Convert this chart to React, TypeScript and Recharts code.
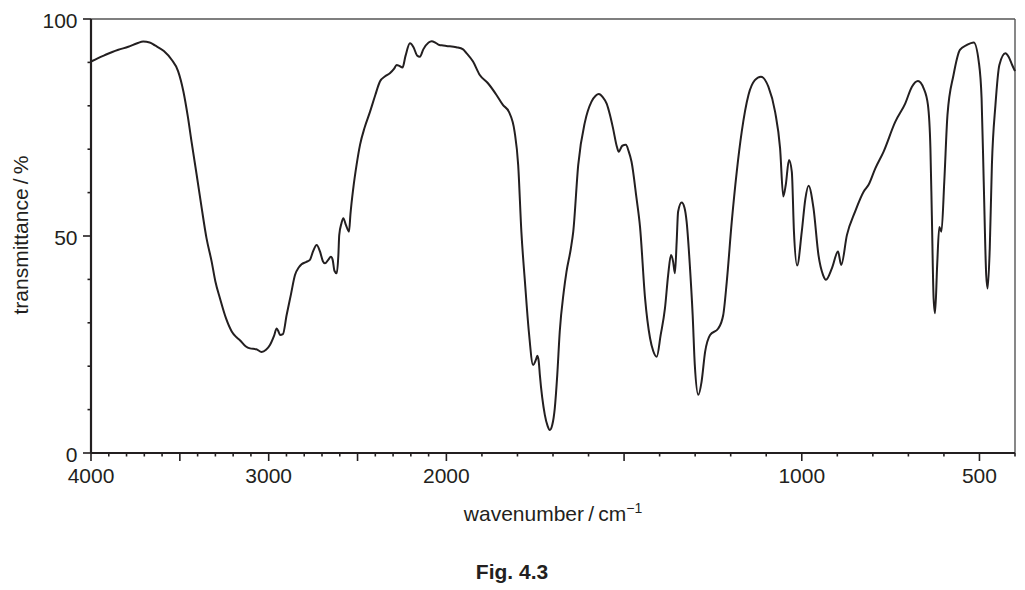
import React from 'react';
import { LineChart, Line, XAxis, YAxis, ReferenceLine } from 'recharts';

// IR spectrum: wavenumber (cm^-1) and transmittance (%)
const wavenumbers = [
  4000, 3960, 3921, 3880, 3846, 3790, 3740, 3706, 3670, 3640, 3590, 3546, 3510, 3480, 3455, 3434,
  3405, 3377, 3350, 3321, 3300, 3274, 3240, 3208, 3185, 3162, 3130, 3105, 3070, 3040, 3015, 2993,
  2970, 2955, 2945, 2936, 2920, 2899, 2875, 2852, 2830, 2815, 2790, 2768, 2750, 2730, 2712, 2695,
  2683, 2665, 2650, 2640, 2630, 2617, 2608, 2603, 2590, 2580, 2565, 2548, 2540, 2524, 2505, 2486,
  2460, 2430, 2400, 2374, 2345, 2318, 2295, 2280, 2265, 2247, 2230, 2205, 2185, 2165, 2149, 2130,
  2100, 2083, 2060, 2040, 2018, 2000, 1972, 1953, 1944, 1925, 1906, 1883, 1859, 1841, 1824, 1808,
  1798, 1789, 1779, 1768, 1756, 1748, 1744, 1740, 1737, 1723, 1715, 1709, 1702, 1695, 1688, 1681,
  1670, 1662, 1650, 1643, 1629, 1610, 1592, 1580, 1571, 1560, 1549, 1540, 1531, 1520, 1515, 1505,
  1495, 1487, 1479, 1465, 1455, 1441, 1427, 1418, 1408, 1397, 1385, 1376, 1368, 1362, 1357, 1352,
  1348, 1338, 1330, 1324, 1315, 1307, 1301, 1291, 1282, 1272, 1258, 1235, 1221, 1211, 1197, 1183,
  1169, 1150, 1132, 1115, 1094, 1075, 1061, 1052, 1045, 1036, 1028, 1022, 1013, 1000, 990, 981,
  967, 953, 940, 932, 915, 898, 889, 873, 850, 826, 812, 793, 770, 737, 709, 690,
  673, 657, 645, 638, 634, 629, 625, 619, 613, 607, 599, 590, 573, 555, 536, 516,
  502, 494, 488, 481, 477, 471, 465, 455, 444, 427, 418, 408, 400,
];

const transmittance = [
  90.2, 91.0, 91.7, 92.4, 92.9, 93.6, 94.4, 94.8, 94.6, 93.9, 92.6, 90.6, 88.0, 83.3, 77.5, 71.7,
  64.0, 56.4, 49.5, 44.1, 39.5, 35.6, 31.0, 28.0, 26.8, 26.0, 24.6, 24.1, 23.9, 23.3, 23.8, 24.9,
  27.0, 28.7, 28.0, 27.2, 27.4, 31.8, 36.5, 41.0, 42.8, 43.5, 44.0, 44.5, 46.5, 47.9, 46.5, 44.2,
  43.7, 44.5, 45.2, 44.5, 42.0, 41.4, 45.5, 50.2, 53.0, 54.1, 52.5, 51.0, 55.0, 61.0, 66.5, 71.0,
  75.0, 78.6, 82.5, 85.6, 86.8, 87.5, 88.5, 89.4, 89.2, 88.8, 91.5, 94.4, 93.5, 91.6, 91.3, 93.0,
  94.6, 94.9, 94.5, 94.0, 93.9, 93.8, 93.5, 93.0, 92.2, 90.2, 87.1, 85.2, 82.5, 80.2, 78.6, 74.0,
  66.4, 51.0, 39.5, 28.0, 20.3, 21.5, 22.4, 21.0, 18.0, 8.8, 6.2, 5.3, 6.5, 10.3, 18.0, 28.0,
  37.0, 41.8, 47.0, 51.0, 66.4, 76.3, 80.9, 82.3, 82.7, 82.0, 80.5, 78.0, 74.8, 70.5, 69.4, 70.8,
  71.0, 69.5, 67.1, 58.7, 52.0, 35.7, 26.5, 23.5, 22.2, 27.2, 33.3, 41.0, 45.6, 44.1, 41.4, 48.7,
  55.6, 57.7, 56.5, 53.3, 43.3, 31.8, 20.3, 13.4, 16.4, 23.3, 27.2, 28.7, 31.8, 39.5, 53.3, 64.8,
  74.0, 82.5, 85.9, 86.7, 84.4, 78.6, 70.2, 59.1, 61.8, 67.5, 64.8, 51.0, 43.2, 51.0, 58.5, 61.6,
  56.4, 45.6, 41.0, 39.9, 42.6, 46.4, 43.3, 50.2, 55.6, 60.2, 61.8, 65.6, 69.4, 76.3, 80.5, 84.4,
  85.7, 84.0, 80.2, 70.2, 54.8, 35.6, 32.2, 43.3, 52.1, 51.0, 62.5, 77.9, 87.1, 92.9, 94.0, 94.6,
  90.2, 81.7, 62.5, 41.0, 37.9, 47.2, 66.4, 80.2, 89.4, 92.1, 91.3, 89.4, 88.0,
];

const xTickWavenumbers = [
  4000, 3900, 3800, 3700, 3600, 3500, 3400, 3300, 3200, 3100, 3000, 2900, 2800, 2700, 2600, 2500,
  2400, 2300, 2200, 2100, 2000, 1900, 1800, 1700, 1600, 1500, 1400, 1300, 1200, 1100, 1000, 900,
  800, 700, 600, 500, 400,
];
const xLabelWavenumbers = [4000, 3000, 2000, 1000, 500];
const xLongTickWavenumbers = [4000, 3500, 3000, 2500, 2000, 1500, 1000, 500];
const yTickValues = [0, 10, 20, 30, 40, 50, 60, 70, 80, 90, 100];
const yLabelValues = [0, 50, 100];

// The wavenumber axis is drawn with a scale change at 2000 cm^-1 (double scale below it)
const SPLIT = 2000;
const toPos = (wn: number) => (wn >= SPLIT ? 4000 - wn : 2000 + 2 * (SPLIT - wn));
const fromPos = (p: number) => (p <= 2000 ? 4000 - p : SPLIT - (p - 2000) / 2);

const data = wavenumbers.map((wn, i) => ({ pos: toPos(wn), t: transmittance[i] }));

const INK = '#231f20';
const FONT = '"Liberation Sans", Arial, Helvetica, sans-serif';

const XTick = (props: any) => {
  const { x, y, payload } = props;
  const wn = Math.round(fromPos(payload.value));
  const axisY = y - 8;
  const long = xLongTickWavenumbers.includes(wn);
  return (
    <g>
      <line x1={x} x2={x} y1={axisY} y2={axisY + (long ? 8 : 3.5)} stroke={INK} strokeWidth={1.6} />
      {xLabelWavenumbers.includes(wn) && (
        <text x={x} y={axisY + 30} textAnchor="middle" fontSize={21} fontFamily={FONT} fill={INK}>
          {wn}
        </text>
      )}
    </g>
  );
};

const YTick = (props: any) => {
  const { x, y, payload } = props;
  const v = payload.value;
  const axisX = x + 8;
  const long = yLabelValues.includes(v);
  return (
    <g>
      <line x1={axisX - (long ? 8 : 3.5)} x2={axisX} y1={y} y2={y} stroke={INK} strokeWidth={1.6} />
      {long && (
        <text x={axisX - 13.5} y={y + 9} textAnchor="end" fontSize={21} fontFamily={FONT} fill={INK}>
          {v}
        </text>
      )}
    </g>
  );
};

export default function App() {
  return (
    <div style={{ position: 'absolute', left: 0, top: 0, width: 1025, height: 590, background: '#fff' }}>
      <LineChart
        width={1025}
        height={590}
        data={data}
        margin={{ top: 19, right: 10, left: 31, bottom: 97 }}
      >
        <ReferenceLine y={100} stroke="#555" strokeWidth={1.4} />
        <ReferenceLine x={5200} stroke="#555" strokeWidth={1.4} />
        <XAxis
          type="number"
          dataKey="pos"
          domain={[0, 5200]}
          ticks={xTickWavenumbers.map(toPos)}
          interval={0}
          height={40}
          tickSize={6}
          tickMargin={2}
          tickLine={false}
          tick={<XTick />}
          axisLine={{ stroke: INK, strokeWidth: 2.2 }}
        />
        <YAxis
          type="number"
          domain={[0, 100]}
          ticks={yTickValues}
          interval={0}
          width={60}
          tickSize={6}
          tickMargin={2}
          tickLine={false}
          tick={<YTick />}
          axisLine={{ stroke: INK, strokeWidth: 2.2 }}
        />
        <Line
          type="monotone"
          dataKey="t"
          stroke={INK}
          strokeWidth={2}
          dot={false}
          isAnimationActive={false}
        />
      </LineChart>
      <svg
        width={1025}
        height={590}
        style={{ position: 'absolute', left: 0, top: 0, pointerEvents: 'none' }}
      >
        <text
          transform="rotate(-90)"
          x={-235}
          y={28}
          textAnchor="middle"
          fontSize={21}
          fontFamily={FONT}
          fill={INK}
        >
          {'transmittance\u2009/\u2009%'}
        </text>
        <text x={553} y={521} textAnchor="middle" fontSize={21} fontFamily={FONT} fill={INK}>
          {'wavenumber\u2009/\u2009cm'}
          <tspan dy={-8} fontSize={14}>{'\u22121'}</tspan>
        </text>
        <text x={512} y={579} textAnchor="middle" fontSize={21} fontWeight="bold" fontFamily={FONT} fill={INK}>
          Fig. 4.3
        </text>
      </svg>
    </div>
  );
}
